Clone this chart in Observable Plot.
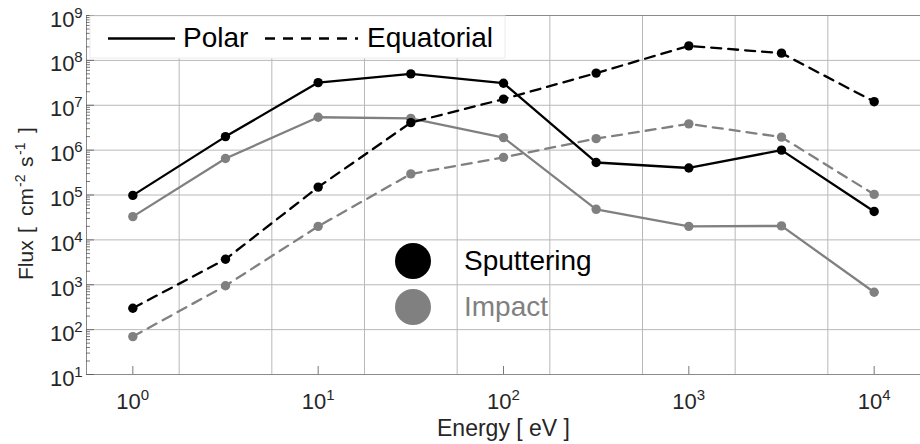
<!DOCTYPE html>
<html><head><meta charset="utf-8">
<script src="https://cdn.jsdelivr.net/npm/d3@7"></script>
<script src="https://cdn.jsdelivr.net/npm/@observablehq/plot@0.6"></script>
<style>
body{margin:0;background:#fff;}
#chart svg{font-family:"Liberation Sans",Arial,sans-serif;display:block;}
</style>
</head><body><div id="chart"></div>
<script>
// ---- data ----
const energy = [1, 3.162, 10, 31.62, 100, 316.2, 1000, 3162, 10000];
const polarSputtering      = [9.8e4, 2.0e6, 3.2e7, 5.0e7, 3.1e7, 5.3e5, 4.0e5, 1.0e6, 4.3e4];
const polarImpact          = [3.3e4, 6.5e5, 5.4e6, 5.1e6, 1.9e6, 4.8e4, 2.0e4, 2.05e4, 6.8e2];
const equatorialSputtering = [3.0e2, 3.7e3, 1.5e5, 4.1e6, 1.37e7, 5.2e7, 2.1e8, 1.45e8, 1.2e7];
const equatorialImpact     = [70, 9.5e2, 2.0e4, 2.95e5, 6.9e5, 1.8e6, 3.85e6, 1.95e6, 1.03e5];
const regions = ["Polar", "Equatorial"];
const sources = ["Sputtering", "Impact"];
const xTickExps = [0, 1, 2, 3, 4];
const yTickExps = [1, 2, 3, 4, 5, 6, 7, 8, 9];
const xGridExps = [0.25, 0.75, 1.25, 1.75, 2.25, 2.75, 3.25, 3.75];
const xDomainExps = [-0.25, 4.25];
const yDomainExps = [1, 9];
const xLabel = "Energy [ eV ]";
const yLabelParts = [["Flux", 0], ["[", 47], ["cm", 64], ["-2", 93, true], ["s", 113], ["-1", 125, true], ["]", 147]];

// ---- styling ----
const BLACK = "#000000", GRAY = "#808080";
const sourceColor = {Sputtering: BLACK, Impact: GRAY};
const seriesList = [
  {region: "Polar", source: "Impact", values: polarImpact},
  {region: "Equatorial", source: "Impact", values: equatorialImpact},
  {region: "Equatorial", source: "Sputtering", values: equatorialSputtering},
  {region: "Polar", source: "Sputtering", values: polarSputtering}
];
const rows = [];
seriesList.forEach((s, i) => s.values.forEach((v, j) => rows.push({
  key: s.region + "-" + s.source, order: i, region: s.region, source: s.source,
  energy: energy[j], flux: v, color: sourceColor[s.source]
})));

const xmin = 10 ** xDomainExps[0], xmax = 10 ** xDomainExps[1];
const ymin = 10 ** yDomainExps[0], ymax = 10 ** yDomainExps[1];
const minorY = [];
for (let e = yDomainExps[0]; e < yDomainExps[1]; e++) for (let m = 2; m <= 9; m++) minorY.push(m * 10 ** e);

const TXT = "#262626", GRID = "#b8b8b8", AX = "#8a8a8a";

const seriesMarks = seriesList.flatMap(s => {
  const data = rows.filter(r => r.key === s.region + "-" + s.source);
  return [
    Plot.line(data, {x: "energy", y: "flux", stroke: "color", strokeWidth: 2.3,
      strokeDasharray: s.region === "Equatorial" ? "10,7" : null}),
    Plot.dot(data, {x: "energy", y: "flux", r: 4.7, fill: "color", stroke: null})
  ];
});

const plot = Plot.plot({
  width: 920, height: 444,
  marginLeft: 86, marginRight: 0, marginTop: 15, marginBottom: 70,
  x: {type: "log", domain: [xmin, xmax]},
  y: {type: "log", domain: [ymin, ymax]},
  color: {type: "identity"},
  style: {fontFamily: "'Liberation Sans', Arial, sans-serif", background: "#fff", overflow: "visible"},
  marks: [
    Plot.ruleY(yTickExps.map(e => 10 ** e), {stroke: GRID, strokeWidth: 1}),
    Plot.ruleX(xGridExps.map(e => 10 ** e), {stroke: GRID, strokeWidth: 1}),
    Plot.frame({stroke: AX, strokeWidth: 1}),
    Plot.axisY({ticks: minorY, tickSize: -4, tickFormat: () => "", label: null, stroke: "#555", strokeWidth: 0.8}),
    Plot.axisY({ticks: yTickExps.map(e => 10 ** e), tickSize: -8, tickFormat: () => "", label: null, stroke: "#555", strokeWidth: 0.8}),
    Plot.axisX({ticks: xTickExps.map(e => 10 ** e), tickSize: -8, tickFormat: () => "", label: null, stroke: "#555", strokeWidth: 0.8}),
    // tick labels with superscript exponents
    Plot.text(xTickExps, {x: d => 10 ** d, y: () => ymin, text: () => "10", textAnchor: "end", lineAnchor: "bottom", dx: 8, dy: 34, fontSize: 22, fill: TXT}),
    Plot.text(xTickExps, {x: d => 10 ** d, y: () => ymin, text: d => String(d), textAnchor: "start", lineAnchor: "bottom", dx: 8, dy: 25, fontSize: 15, fill: TXT}),
    Plot.text(yTickExps, {x: () => xmin, y: d => 10 ** d, text: () => "10", textAnchor: "end", lineAnchor: "bottom", dx: -12, dy: 11, fontSize: 22, fill: TXT}),
    Plot.text(yTickExps, {x: () => xmin, y: d => 10 ** d, text: d => String(d), textAnchor: "end", lineAnchor: "bottom", dx: -4, dy: 2, fontSize: 15, fill: TXT}),
    Plot.text([xLabel], {frameAnchor: "bottom", text: d => d, lineAnchor: "bottom", dy: 61, fontSize: 23, fill: TXT}),
    ...seriesMarks
  ]
});
document.getElementById("chart").appendChild(plot);

// ---- legends & y label (annotation layer) ----
const svg = d3.select(plot);
const g = svg.append("g").attr("font-family", "'Liberation Sans', Arial, sans-serif").attr("text-anchor", "start");
// top legend box
g.append("rect").attr("x", 90).attr("y", 16).attr("width", 415).attr("height", 42)
  .attr("fill", "#fff").attr("stroke", "#ececec");
g.append("line").attr("x1", 108).attr("x2", 175).attr("y1", 38.5).attr("y2", 38.5)
  .attr("stroke", BLACK).attr("stroke-width", 2.3);
g.append("text").attr("x", 183).attr("y", 47).attr("font-size", 28).attr("fill", BLACK).text(regions[0]);
g.append("line").attr("x1", 265).attr("x2", 358).attr("y1", 38.5).attr("y2", 38.5)
  .attr("stroke", BLACK).attr("stroke-width", 2.3).attr("stroke-dasharray", "10,8");
g.append("text").attr("x", 367).attr("y", 47).attr("font-size", 28).attr("fill", BLACK).text(regions[1]);
// middle legend
sources.forEach((s, i) => {
  g.append("circle").attr("cx", 413).attr("cy", 261 + i * 46).attr("r", 18).attr("fill", sourceColor[s]);
  g.append("text").attr("x", 464).attr("y", 270 + i * 46).attr("font-size", 28).attr("fill", sourceColor[s]).text(s);
});
// y axis label with superscripts
const yl = g.append("g").attr("transform", "translate(33,280) rotate(-90)").attr("fill", TXT);
yLabelParts.forEach(([t, off, sup]) => {
  yl.append("text").attr("x", off).attr("y", sup ? -8 : 0)
    .attr("font-size", sup ? 14 : 21).attr("text-anchor", "start").text(t);
});
</script>
</body></html>
